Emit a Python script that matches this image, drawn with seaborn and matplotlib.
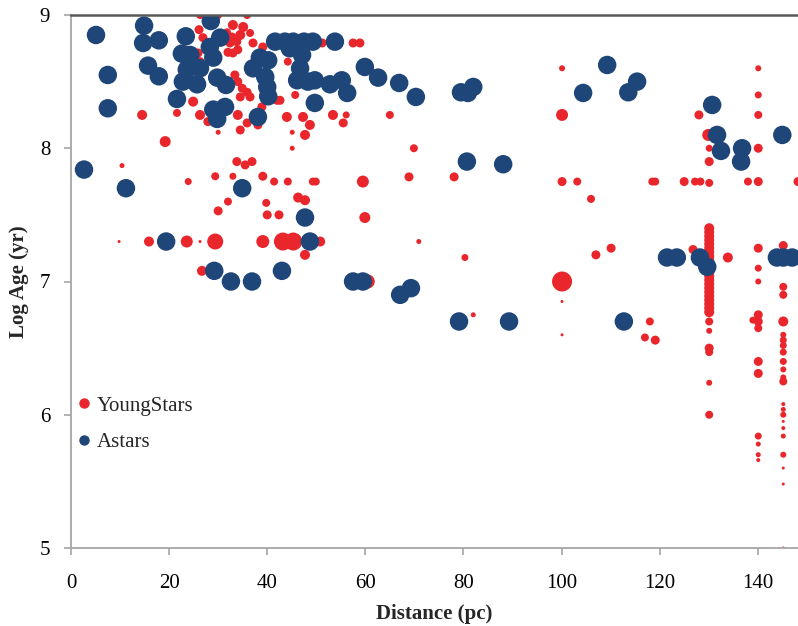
import numpy as np
import pandas as pd
import matplotlib.pyplot as plt
import seaborn as sns
from matplotlib.lines import Line2D

# YoungStars: distance (pc), log age (yr), bubble value
young_x = [26.3, 30.0, 35.9, 26.1, 26.9, 31.8, 33.0, 35.1, 34.5, 32.8, 32.4, 33.8, 33.0, 34.0, 32.0, 25.9, 26.3, 37.1, 39.1, 36.5, 44.2, 51.2, 57.5, 58.9, 61.6,
           33.4, 34.0, 34.9, 35.9, 36.5, 34.5, 40.2, 42.6, 38.9, 45.7, 42.0,
           24.9, 21.6, 14.5, 26.3, 29.0, 27.9, 34.0, 35.9, 34.5, 30.0, 38.1, 44.0, 47.3, 48.7, 47.7, 45.1, 53.4, 55.5, 56.1, 65.0, 45.1, 69.9, 19.2,
           10.4, 23.9, 33.8, 35.5, 36.9, 29.4, 33.0, 39.1, 41.4, 44.2, 49.3, 49.9, 59.5, 68.9, 78.1,
           46.3, 47.7, 32.0, 30.0, 39.8, 40.0, 42.4, 59.9,
           9.8, 15.9, 23.6, 26.3, 29.4, 39.1, 43.2, 45.3, 50.8, 47.7, 26.7, 60.5, 70.9, 80.3, 82.0,
           100.1, 100.1, 100.1, 103.2, 106.0, 100.1, 100.1, 100.1, 107.0, 110.1, 118.0, 117.0, 119.1, 118.5, 119.1, 125.0, 127.2, 128.3, 130.1, 128.0, 129.9, 130.1, 130.1, 126.8, 133.9,
           140.1, 140.1, 140.1, 140.1, 138.0, 140.1, 148.2, 139.0]
young_y = [9.0, 9.0, 9.0, 8.89, 8.83, 8.87, 8.925, 8.91, 8.85, 8.835, 8.79, 8.8, 8.715, 8.74, 8.72, 8.715, 8.65, 8.79, 8.76, 8.865, 8.65, 8.79, 8.79, 8.79, 8.57,
           8.55, 8.5, 8.45, 8.42, 8.385, 8.385, 8.415, 8.36, 8.31, 8.4, 8.36,
           8.35, 8.265, 8.25, 8.25, 8.25, 8.2, 8.25, 8.19, 8.137, 8.12, 8.175, 8.235, 8.235, 8.175, 8.1, 8.12, 8.25, 8.19, 8.25, 8.25, 8.0, 8.0, 8.05,
           7.87, 7.75, 7.9, 7.875, 7.9, 7.79, 7.79, 7.79, 7.75, 7.75, 7.75, 7.75, 7.75, 7.785, 7.785,
           7.63, 7.61, 7.6, 7.53, 7.59, 7.5, 7.5, 7.48,
           7.3, 7.3, 7.3, 7.3, 7.3, 7.3, 7.3, 7.3, 7.3, 7.2, 7.08, 7.0, 7.3, 7.18, 6.75,
           8.6, 8.25, 7.75, 7.75, 7.62, 7.0, 6.85, 6.6, 7.2, 7.25, 6.7, 6.58, 6.56, 7.75, 7.75, 7.75, 7.75, 7.75, 7.74, 8.25, 8.1, 8.0, 7.9, 7.24, 7.18,
           8.6, 8.4, 8.25, 8.0, 7.75, 7.75, 7.75, 6.71]
young_b = [8, 8, 8, 9, 9, 8, 10, 10, 10, 9, 9, 9, 9, 9, 9, 9, 9, 9, 9, 8, 8, 9, 9, 9, 7,
           9, 9, 9, 9, 9, 9, 9, 9, 9, 8, 9,
           10, 8, 10, 10, 10, 9, 10, 9, 9, 5, 9, 10, 10, 10, 10, 5, 10, 9, 7, 8, 5, 8, 11,
           5, 7, 9, 9, 9, 8, 7, 9, 8, 8, 8, 8, 12, 9, 9,
           10, 10, 8, 9, 8, 9, 9, 11,
           3, 10, 12, 3, 16, 13, 18, 18, 10, 10, 10, 14, 5, 7, 5,
           6, 12, 9, 8, 8, 20, 3, 3, 9, 9, 8, 8, 9, 8, 8, 9, 8, 8, 8, 9, 12, 7, 9, 9, 10,
           6, 7, 8, 9, 8, 9, 9, 7]

# vertical stacks of YoungStars at ~130, ~140 and ~145 pc
stack130_y = [7.4, 7.37, 7.34, 7.31, 7.28, 7.25, 7.22, 7.19, 7.16, 7.13, 7.1, 7.07, 7.04, 7.01, 6.98,
              6.95, 6.92, 6.89, 6.86, 6.83, 6.8, 6.77, 6.7, 6.63, 6.5, 6.47, 6.24, 6.0]
stack130_b = [10] * 22 + [8, 6, 9, 8, 6, 8]
stack140_y = [7.25, 7.1, 7.0, 6.75, 6.7, 6.65, 6.4, 6.31, 5.84, 5.78, 5.7, 5.66]
stack140_b = [9, 7, 6, 9, 9, 8, 9, 9, 7, 5, 5, 4]
stack145_y = [7.27, 6.96, 6.9, 6.7, 6.6, 6.56, 6.52, 6.47, 6.4, 6.34, 6.28, 6.25, 6.08, 6.04, 6.0,
              5.95, 5.9, 5.84, 5.7, 5.6, 5.48, 5.0]
stack145_b = [9, 8, 8, 10, 6, 7, 7, 7, 7, 6, 6, 8, 4, 5, 6, 3, 4, 5, 6, 3, 3, 3]

# Astars
astars_x = [5.1, 7.5, 7.5, 2.65, 11.2, 14.9, 14.7, 17.9, 15.7, 17.9, 23.4, 28.5, 21.6, 22.6, 24.3, 23.6, 26.3, 22.8, 25.7,
            28.3, 30.4, 29.0, 29.8, 31.6, 29.0, 29.8, 31.4, 34.9, 38.1, 37.1, 38.5, 40.2, 39.6, 40.0, 40.2,
            41.6, 43.6, 45.3, 47.5, 49.3, 53.8, 44.6, 47.1, 46.7, 46.1, 48.3, 49.7, 52.8, 55.2, 56.3, 49.7,
            59.9, 62.6, 66.9, 70.3, 79.5, 82.0, 80.9, 80.7, 88.1, 104.4, 109.3, 113.6, 115.4,
            130.7, 131.7, 132.5, 136.8, 136.6, 145.0,
            19.4, 29.2, 32.6, 36.9, 47.7, 48.7, 43.0, 57.5, 59.5, 67.1, 69.3, 79.1, 89.3, 112.7,
            121.5, 123.5, 128.2, 129.7, 143.9, 145.2, 147.0]
astars_y = [8.85, 8.55, 8.3, 7.84, 7.7, 8.92, 8.79, 8.81, 8.62, 8.54, 8.84, 8.955, 8.37, 8.71, 8.7, 8.59, 8.6, 8.5, 8.48,
            8.76, 8.83, 8.68, 8.53, 8.475, 8.29, 8.22, 8.31, 7.7, 8.235, 8.6, 8.68, 8.66, 8.535, 8.46, 8.39,
            8.8, 8.8, 8.8, 8.8, 8.8, 8.8, 8.75, 8.7, 8.6, 8.51, 8.5, 8.51, 8.48, 8.51, 8.415, 8.34,
            8.61, 8.53, 8.49, 8.385, 8.42, 8.46, 8.415, 7.9, 7.88, 8.415, 8.625, 8.42, 8.5,
            8.325, 8.1, 7.98, 8.0, 7.9, 8.1,
            7.3, 7.08, 7.0, 7.0, 7.48, 7.3, 7.08, 7.0, 7.0, 6.9, 6.95, 6.7, 6.7, 6.7,
            7.18, 7.18, 7.18, 7.11, 7.18, 7.18, 7.18]
astars_b = 18.5

red = '#E8262B'
blue = '#1F4679'

young = pd.DataFrame({
    'dist': young_x + [130.1] * len(stack130_y) + [140.1] * len(stack140_y) + [145.2] * len(stack145_y),
    'logage': young_y + stack130_y + stack140_y + stack145_y,
    'bubble': young_b + stack130_b + stack140_b + stack145_b,
})
young['series'] = 'YoungStars'
astars = pd.DataFrame({'dist': astars_x, 'logage': astars_y})
astars['bubble'] = astars_b
astars['series'] = 'Astars'
df = pd.concat([young, astars], ignore_index=True)
df['area'] = df['bubble'] ** 2

sns.set_theme(style='white')
plt.rcParams['font.family'] = ['Liberation Serif', 'DejaVu Serif']

fig = plt.figure(figsize=(7.98, 6.26), dpi=100)
ax = fig.add_axes([71 / 798, 78 / 626, 727 / 798, 533 / 626])
sns.scatterplot(data=df, x='dist', y='logage', hue='series',
                palette={'YoungStars': red, 'Astars': blue},
                size='area', sizes=(0, 207), size_norm=(0, 400),
                linewidth=0, legend=False, ax=ax)

ax.set_xlim(0, 148.2)
ax.set_ylim(5, 9)
ax.set_xticks(range(0, 141, 20))
ax.set_yticks(range(5, 10))
ax.set_xlabel('Distance (pc)', fontsize=15, fontweight='bold', labelpad=8)
ax.set_ylabel('Log Age (yr)', fontsize=15, fontweight='bold', labelpad=8)

ax.spines['right'].set_visible(False)
ax.spines['top'].set_color('#595959')
ax.spines['top'].set_linewidth(1.8)
for s in ['left', 'bottom']:
    ax.spines[s].set_color('#A6A6A6')
    ax.spines[s].set_linewidth(1.3)
ax.tick_params(axis='both', which='major', bottom=True, left=True, direction='out',
               length=5, width=1.2, color='#A6A6A6', labelsize=15, labelcolor='black')
ax.tick_params(axis='x', pad=14)
ax.tick_params(axis='y', pad=10)

handles = [Line2D([], [], marker='o', linestyle='', color=red, markersize=7.5, markeredgewidth=0),
           Line2D([], [], marker='o', linestyle='', color=blue, markersize=7.5, markeredgewidth=0)]
ax.legend(handles, ['YoungStars', 'Astars'], loc='upper left', bbox_to_anchor=(0.007, 0.285),
          frameon=False, fontsize=15, handlelength=0.8, handletextpad=0.2,
          borderaxespad=0, borderpad=0, labelspacing=0.8)

fig.savefig('out.png', dpi=100)
